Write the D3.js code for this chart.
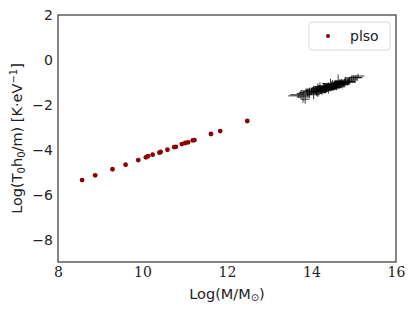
<!DOCTYPE html>
<html>
<head>
<meta charset="utf-8">
<script src="https://cdn.jsdelivr.net/npm/d3@7"></script>
<style>
  body { margin: 0; background: #fff; }
  text { fill: #222; }
</style>
</head>
<body>
<div id="chart"></div>
<script>
// plso points: log mass, log temperature
var plsoMass = [8.57, 8.88, 9.29, 9.60, 9.90, 10.08, 10.13, 10.24, 10.40, 10.43, 10.59,
    10.75, 10.79, 10.93, 11.01, 11.08, 11.19, 11.23, 11.62, 11.84, 12.48];
var plsoTemp = [-5.35, -5.14, -4.87, -4.67, -4.46, -4.34, -4.29, -4.22, -4.13, -4.10, -4.00,
    -3.88, -3.87, -3.75, -3.70, -3.67, -3.58, -3.57, -3.30, -3.17, -2.72];

// cluster observations with error bars
var obsMass = [13.70, 13.75, 13.80, 13.85, 13.90, 13.95, 14.00, 14.05, 14.10, 14.15, 14.20, 14.20,
    14.25, 14.30, 14.30, 14.35, 14.35, 14.40, 14.40, 14.45, 14.45, 14.50, 14.50, 14.55,
    14.60, 14.60, 14.63, 14.65, 14.70, 14.75, 14.80, 14.85, 14.90, 14.95, 15.00, 15.10,
    14.05, 14.15, 14.25, 14.28, 14.32, 14.38, 14.42, 14.48, 14.52, 14.58, 14.68, 14.72,
    14.78, 14.88, 15.05, 13.95, 14.12, 14.22, 14.36, 14.46, 14.56, 14.66];
var obsTemp = [-1.60, -1.55, -1.65, -1.75, -1.45, -1.50, -1.40, -1.55, -1.35, -1.45, -1.30, -1.20,
    -1.40, -1.25, -1.35, -1.20, -1.30, -1.30, -1.15, -1.25, -1.05, -1.20, -1.10, -1.15,
    -1.05, -1.20, -0.95, -1.10, -1.00, -1.05, -0.95, -1.00, -0.90, -0.85, -0.80, -0.72,
    -1.30, -1.25, -1.30, -1.18, -1.28, -1.22, -1.25, -1.15, -1.22, -1.12, -1.05, -1.08,
    -0.98, -0.95, -0.78, -1.38, -1.40, -1.35, -1.25, -1.18, -1.10, -1.02];
var obsMassErr = [0.25, 0.25, 0.15, 0.10, 0.20, 0.30, 0.20, 0.15, 0.25, 0.20, 0.20, 0.15,
    0.15, 0.30, 0.20, 0.20, 0.25, 0.20, 0.25, 0.15, 0.20, 0.20, 0.20, 0.25,
    0.15, 0.20, 0.10, 0.20, 0.20, 0.15, 0.25, 0.20, 0.20, 0.15, 0.20, 0.15,
    0.20, 0.15, 0.25, 0.20, 0.15, 0.20, 0.25, 0.15, 0.20, 0.20, 0.15, 0.20,
    0.20, 0.15, 0.15, 0.20, 0.25, 0.15, 0.20, 0.15, 0.20, 0.15];
var obsTempErr = [0.10, 0.20, 0.25, 0.20, 0.15, 0.20, 0.15, 0.20, 0.15, 0.20, 0.15, 0.20,
    0.15, 0.20, 0.15, 0.15, 0.15, 0.20, 0.15, 0.15, 0.20, 0.15, 0.20, 0.15,
    0.15, 0.15, 0.30, 0.20, 0.15, 0.15, 0.20, 0.15, 0.15, 0.15, 0.10, 0.10,
    0.15, 0.20, 0.15, 0.15, 0.20, 0.15, 0.15, 0.20, 0.15, 0.15, 0.15, 0.20,
    0.15, 0.15, 0.10, 0.15, 0.20, 0.15, 0.15, 0.15, 0.20, 0.15];

var xTicks = [8, 10, 12, 14, 16];
var yTicks = [-8, -6, -4, -2, 0, 2];

var margin = {top: 15, right: 19, bottom: 49, left: 58},
    width = 415 - margin.left - margin.right,
    height = 311 - margin.top - margin.bottom;

var svg = d3.select("#chart")
    .append("svg")
    .attr("width", 415)
    .attr("height", 311)
    .append("g")
    .attr("transform", "translate(" + margin.left + "," + margin.top + ")");

var x = d3.scaleLinear().domain([8, 16]).range([0, width]);
var y = d3.scaleLinear().domain([-9, 2]).range([height, 0]);

var minus = function(v) { return String(v).replace("-", "\u2212"); };

// X axis
var xa = svg.append("g")
    .attr("transform", "translate(0," + height + ")")
    .call(d3.axisBottom(x).tickValues(xTicks).tickSize(0).tickPadding(5).tickFormat(d3.format("d")));
xa.select(".domain").remove();
xa.selectAll("text")
    .style("font-family", "'DejaVu Serif', serif")
    .style("font-size", "14px")
    .attr("fill", "#222");

// Y axis
var ya = svg.append("g")
    .call(d3.axisLeft(y).tickValues(yTicks).tickSize(0).tickPadding(5).tickFormat(minus));
ya.select(".domain").remove();
ya.selectAll("text")
    .style("font-family", "'DejaVu Sans', sans-serif")
    .style("font-size", "14px")
    .attr("fill", "#222");

// frame
svg.append("rect")
    .attr("x", 0).attr("y", 0)
    .attr("width", width).attr("height", height)
    .attr("fill", "none")
    .attr("stroke", "#444")
    .attr("stroke-width", 1.3);

// error bars
var obs = obsMass.map(function(m, i) {
    return {m: m, t: obsTemp[i], me: obsMassErr[i], te: obsTempErr[i]};
});
var eb = svg.append("g").attr("stroke", "#000").attr("stroke-width", 0.8);
eb.selectAll("line.h")
    .data(obs).enter().append("line")
    .attr("class", "h")
    .attr("x1", function(d) { return x(d.m - d.me); })
    .attr("x2", function(d) { return x(d.m + d.me); })
    .attr("y1", function(d) { return y(d.t); })
    .attr("y2", function(d) { return y(d.t); });
eb.selectAll("line.v")
    .data(obs).enter().append("line")
    .attr("class", "v")
    .attr("x1", function(d) { return x(d.m); })
    .attr("x2", function(d) { return x(d.m); })
    .attr("y1", function(d) { return y(d.t - d.te); })
    .attr("y2", function(d) { return y(d.t + d.te); });

// plso points
svg.selectAll("circle.plso")
    .data(plsoMass)
    .enter()
    .append("circle")
    .attr("class", "plso")
    .attr("cx", function(d) { return x(d); })
    .attr("cy", function(d, i) { return y(plsoTemp[i]); })
    .attr("r", 2.4)
    .attr("fill", "#8b0000");

// legend
var lg = svg.append("g").attr("transform", "translate(251,7)");
lg.append("rect")
    .attr("width", 81).attr("height", 28)
    .attr("rx", 3)
    .attr("fill", "#fff")
    .attr("stroke", "#d8d8d8");
lg.append("circle").attr("cx", 19).attr("cy", 14).attr("r", 2).attr("fill", "#8b0000");
lg.append("text").attr("x", 41).attr("y", 19)
    .style("font-family", "'DejaVu Sans', sans-serif")
    .style("font-size", "14px")
    .text("plso");

// axis labels
svg.append("text")
    .attr("x", width / 2).attr("y", height + 37)
    .attr("text-anchor", "middle")
    .style("font-family", "'DejaVu Sans', sans-serif")
    .style("font-size", "14.5px")
    .html("Log(M/M<tspan font-size='10px' dy='2'>\u2299</tspan><tspan dy='-2'>)</tspan>");

var yl = svg.append("text")
    .attr("transform", "translate(-36," + (height / 2) + ") rotate(-90)")
    .attr("text-anchor", "middle")
    .style("font-family", "'DejaVu Sans', sans-serif")
    .style("font-size", "14.5px");
yl.append("tspan").text("Log(T");
yl.append("tspan").attr("font-size", "10px").attr("dy", 3).text("0");
yl.append("tspan").attr("dy", -3).text("h");
yl.append("tspan").attr("font-size", "10px").attr("dy", 3).text("0");
yl.append("tspan").attr("dy", -3).text("/m) [K\u00b7eV");
yl.append("tspan").attr("font-size", "10px").attr("dy", -5).text("\u22121");
yl.append("tspan").attr("dy", 5).text("]");
</script>
</body>
</html>
